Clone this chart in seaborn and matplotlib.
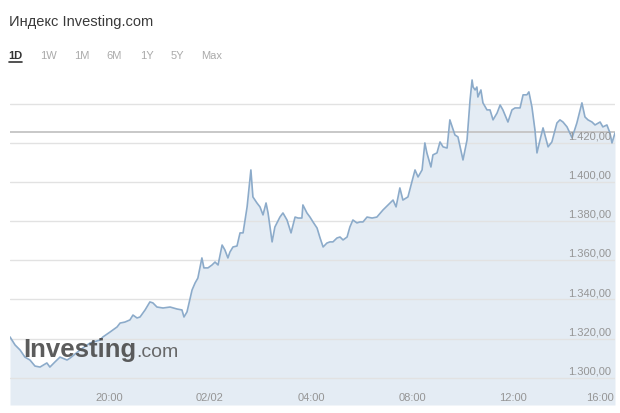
import matplotlib
matplotlib.use("Agg")
import matplotlib.pyplot as plt
import seaborn as sns
import pandas as pd

# Intraday quotes: hours relative to 00:00 on 02/02, index level
hours = [
    -7.92, -7.72, -7.52, -7.33, -7.13, -6.93, -6.73, -6.46, -6.34, -6.14,
    -5.94, -5.66, -5.54, -5.15, -4.75, -4.36, -4.24, -3.96, -3.68, -3.56,
    -3.37, -3.17, -3.05, -2.89, -2.77, -2.57, -2.38, -2.26, -2.10, -1.86,
    -1.58, -1.31, -1.11, -1.03, -0.91, -0.71, -0.59, -0.48, -0.32, -0.24,
    -0.08, 0.08, 0.20, 0.32, 0.48, 0.59, 0.71, 0.79, 0.91, 1.07,
    1.19, 1.31, 1.47, 1.62, 1.70, 1.86, 1.98, 2.10, 2.22, 2.30,
    2.46, 2.57, 2.77, 2.89, 3.05, 3.21, 3.37, 3.49, 3.64, 3.68,
    3.84, 3.96, 4.08, 4.24, 4.36, 4.48, 4.63, 4.75, 4.87, 5.03,
    5.15, 5.27, 5.43, 5.54, 5.66, 5.82, 5.94, 6.06, 6.22, 6.42,
    6.61, 6.85, 7.25, 7.37, 7.52, 7.64, 7.84, 8.12, 8.24, 8.40,
    8.51, 8.59, 8.75, 8.83, 8.99, 9.11, 9.23, 9.39, 9.50, 9.70,
    9.82, 10.02, 10.18, 10.30, 10.38, 10.42, 10.50, 10.57, 10.61, 10.73,
    10.81, 10.97, 11.09, 11.21, 11.37, 11.49, 11.60, 11.80, 11.96, 12.08,
    12.28, 12.40, 12.55, 12.63, 12.75, 12.87, 12.95, 13.07, 13.19, 13.39,
    13.54, 13.74, 13.86, 13.98, 14.14, 14.34, 14.53, 14.73, 14.85, 14.97,
    15.13, 15.25, 15.45, 15.56, 15.72, 15.84, 15.92, 16.04,
]
close = [
    1320.8, 1316.7, 1314.1, 1310.5, 1309.0, 1305.9, 1305.4, 1307.5, 1305.4, 1308.0,
    1310.5, 1309.0, 1310.0, 1314.1, 1317.7, 1319.2, 1320.8, 1323.3, 1325.9, 1327.9,
    1328.4, 1329.5, 1332.0, 1330.5, 1331.0, 1334.6, 1338.7, 1338.2, 1336.1, 1335.6,
    1336.1, 1335.1, 1334.6, 1331.0, 1333.6, 1344.8, 1348.4, 1350.9, 1361.2, 1356.1,
    1356.1, 1357.6, 1359.1, 1357.6, 1367.8, 1365.3, 1361.2, 1364.2, 1366.8, 1367.3,
    1374.0, 1374.0, 1387.3, 1406.2, 1392.4, 1389.3, 1387.3, 1383.2, 1389.3, 1384.2,
    1369.4, 1377.0, 1382.1, 1384.2, 1380.6, 1374.0, 1382.1, 1381.6, 1381.6, 1388.3,
    1384.2, 1382.1, 1379.6, 1376.5, 1371.4, 1366.8, 1368.8, 1369.4, 1369.4, 1371.4,
    1371.9, 1370.4, 1371.9, 1377.0, 1380.6, 1379.1, 1379.6, 1379.6, 1382.1, 1381.6,
    1382.1, 1385.7, 1390.8, 1387.3, 1397.0, 1390.8, 1392.4, 1406.2, 1402.6, 1406.2,
    1420.0, 1414.9, 1407.7, 1413.9, 1414.9, 1420.5, 1418.0, 1417.4, 1431.8, 1424.1,
    1423.1, 1411.3, 1421.5, 1442.0, 1452.2, 1448.6, 1447.1, 1448.6, 1443.5, 1447.1,
    1440.5, 1436.9, 1436.9, 1431.8, 1435.3, 1439.4, 1436.9, 1430.7, 1436.9, 1437.9,
    1437.9, 1444.6, 1444.6, 1446.1, 1438.4, 1426.6, 1414.9, 1421.5, 1427.7, 1418.0,
    1420.5, 1430.2, 1431.8, 1430.7, 1428.2, 1422.6, 1430.2, 1440.5, 1433.3, 1431.8,
    1430.7, 1429.2, 1430.7, 1428.2, 1429.2, 1425.1, 1420.0, 1425.1,
]
prev_close = 1425.6

grid_levels = [1300, 1320, 1340, 1360, 1380, 1400, 1420, 1440]
y_labels = ["1.300,00", "1.320,00", "1.340,00", "1.360,00", "1.380,00", "1.400,00", "1.420,00"]
x_ticks = [-4, 0, 4, 8, 12, 16]
x_labels = ["20:00", "02/02", "04:00", "08:00", "12:00", "16:00"]
periods = ["1D", "1W", "1M", "6M", "1Y", "5Y", "Max"]

df = pd.DataFrame({"hour": hours, "close": close})

sns.set_style("white")
plt.rcParams["font.family"] = ["Liberation Sans", "DejaVu Sans"]

W, H = 620, 413
fig = plt.figure(figsize=(W / 100, H / 100), dpi=100)
fig.patch.set_facecolor("white")


def fx(px):
    return px / W


def fy(py):
    return 1 - py / H


ax = fig.add_axes([fx(10), fy(405), fx(615) - fx(10), fy(70) - fy(405)])
ax.set_xlim(-7.92, 16.04)
ax.set_ylim(1286.0, 1457.3)
ax.axis("off")

line_col = "#8cabca"
fill_col = "#e4ecf4"

ax.fill_between(df["hour"], df["close"], 1286.0, color=fill_col, lw=0, zorder=1)
sns.lineplot(data=df, x="hour", y="close", ax=ax, color=line_col, lw=1.2, zorder=3)

for lvl in grid_levels:
    ax.axhline(lvl, color="#e2e2e2", lw=1.0, zorder=2)
ax.axhline(prev_close, color="#c4c4c4", lw=1.3, zorder=2)

label_col = "#959595"
for lvl, lab in zip(grid_levels, y_labels):
    ax.annotate(lab, xy=(1.0, lvl), xycoords=("axes fraction", "data"),
                xytext=(-3, 1), textcoords="offset points",
                ha="right", va="bottom", fontsize=8, color=label_col, zorder=5)

for xt, lab in zip(x_ticks, x_labels):
    ha = "right" if xt == x_ticks[-1] else "center"
    ax.text(xt, 0.022, lab, transform=ax.get_xaxis_transform(), ha=ha, va="center",
            fontsize=8, color=label_col, zorder=5)

# watermark logo
logo1 = ax.text(fx(23), fy(357), "Investing", transform=fig.transFigure,
                fontsize=18.5, fontweight="bold", color="#4a4a4a", alpha=0.9,
                ha="left", va="baseline", zorder=6)
fig.canvas.draw()
bb = logo1.get_window_extent()
ax.text(bb.x1 / W + 0.001, fy(357), ".com", transform=fig.transFigure,
        fontsize=14, color="#5a5a5a", alpha=0.9, ha="left", va="baseline", zorder=6)

# header
fig.text(fx(9), fy(22), "Индекс Investing.com", fontsize=10.5, color="#3a3a3a",
         ha="left", va="center")

period_x = [15, 48, 82, 114, 147, 177, 212]
for px_, lab in zip(period_x, periods):
    if lab == "1D":
        fig.text(fx(px_), fy(56), lab, fontsize=8, fontweight="bold", color="#333333",
                 ha="center", va="center")
    else:
        fig.text(fx(px_), fy(56), lab, fontsize=8, color="#aaaaaa",
                 ha="center", va="center")
fig.add_artist(plt.Line2D([fx(9), fx(22)], [fy(61.5), fy(61.5)], color="#333333", lw=1.2))

fig.savefig("out.png", dpi=100, facecolor="white")
